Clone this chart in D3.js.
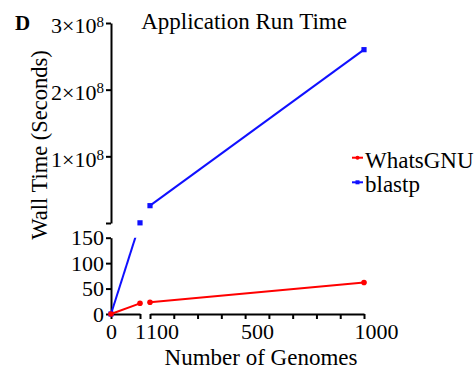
<!DOCTYPE html>
<html>
<head>
<meta charset="utf-8">
<script src="https://cdn.jsdelivr.net/npm/d3@7"></script>
<style>
    body { margin: 0; background: #fff; }
</style>
</head>
<body>
<div id="chart"></div>
<script>
// values
const genomes = [0, 1, 100, 1000];
const whatsgnuTime = [0, 21, 23, 62];
const blastpTime = [0, 2.6e5, 2.6e7, 2.6e8];
const seriesNames = ["WhatsGNU", "blastp"];
const lowYTicks = [0, 50, 100, 150];
const highYTicks = [0, 1e8, 2e8, 3e8];
const lowXTicks = [0, 1];
const highXTicks = [100, 200, 300, 400, 500, 600, 700, 800, 900, 1000];
const highXLabels = [100, 500, 1000];

const FONT = "'Liberation Serif', 'Times New Roman', Times, serif";

document.addEventListener("DOMContentLoaded", function () {
    const width = 476, height = 370;

    const svg = d3.select("#chart")
        .append("svg")
        .attr("width", width)
        .attr("height", height)
        .attr("font-family", FONT);

    // broken axes: two pieces on x, two pieces on y
    const xLow = d3.scaleLinear().domain([0, 1]).range([111, 140]);
    const xHigh = d3.scaleLinear().domain([100, 1000]).range([150, 364]);
    const yLow = d3.scaleLinear().domain([0, 150]).range([314, 237.7]);
    const yHigh = d3.scaleLinear().domain([0, 3e8]).range([223, 23]);

    const px = v => v <= 1 ? xLow(v) : xHigh(v);
    const py = v => v <= 150 ? yLow(v) : yHigh(v);

    const axisStyle = g => {
        g.attr("font-family", FONT).attr("font-size", 22);
        g.selectAll(".domain, .tick line").attr("stroke", "#000").attr("stroke-width", 2);
        g.selectAll(".tick text").attr("fill", "#000");
    };

    // y axis, bottom piece
    svg.append("g")
        .attr("transform", `translate(${xLow(0)},0)`)
        .call(d3.axisLeft(yLow).tickValues(lowYTicks).tickSize(5).tickSizeOuter(0).tickPadding(2))
        .call(axisStyle)
        .call(g => g.selectAll(".tick text").attr("dy", "0.33em"));

    // y axis, top piece with 10^8 labels
    svg.append("g")
        .attr("transform", `translate(${xLow(0)},0)`)
        .call(d3.axisLeft(yHigh).tickValues(highYTicks).tickSize(5).tickSizeOuter(0).tickPadding(2).tickFormat(() => ""))
        .call(axisStyle)
        .call(g => g.selectAll(".tick text").each(function (d) {
            if (d === 0) return;
            const t = d3.select(this).attr("dy", "0.45em");
            t.append("tspan").text(`${d / 1e8}×10`);
            t.append("tspan").attr("dy", "-0.45em").attr("font-size", 15).text("8");
        }));

    // x axis, left piece
    svg.append("g")
        .attr("transform", `translate(0,${yLow(0)})`)
        .call(d3.axisBottom(xLow).tickValues(lowXTicks).tickSize(5).tickSizeOuter(0).tickPadding(4).tickFormat(d3.format("d")))
        .call(axisStyle);

    // x axis, right piece
    svg.append("g")
        .attr("transform", `translate(0,${yLow(0)})`)
        .call(d3.axisBottom(xHigh).tickValues(highXTicks).tickSize(5).tickSizeOuter(0).tickPadding(4)
            .tickFormat(d => highXLabels.includes(d) ? d : ""))
        .call(axisStyle)
        .call(g => g.selectAll(".tick text").attr("dx", 12));

    // clip lines to the two y pieces
    const clip = svg.append("clipPath").attr("id", "panels");
    clip.append("rect").attr("x", 0).attr("y", 0).attr("width", width).attr("height", yHigh(0));
    clip.append("rect").attr("x", 0).attr("y", yLow(150)).attr("width", width).attr("height", height - yLow(150));

    const line = d3.line().x(d => px(d.x)).y(d => py(d.y));

    const series = [
        { name: seriesNames[1], color: "#1010ff", values: blastpTime, shape: "square" },
        { name: seriesNames[0], color: "#ff0000", values: whatsgnuTime, shape: "circle" }
    ];

    series.forEach(s => {
        const pts = genomes.map((g, i) => ({ x: g, y: s.values[i] }));
        const pieces = [pts.filter(p => p.x <= 1), pts.filter(p => p.x >= 100)];

        svg.append("g")
            .attr("clip-path", "url(#panels)")
            .selectAll("path")
            .data(pieces)
            .enter()
            .append("path")
            .attr("d", line)
            .attr("fill", "none")
            .attr("stroke", s.color)
            .attr("stroke-width", 2);

        const marks = svg.append("g").selectAll(".mark").data(pts).enter();
        if (s.shape === "square") {
            marks.append("rect")
                .attr("x", d => px(d.x) - 2.6)
                .attr("y", d => py(d.y) - 2.6)
                .attr("width", 5.2)
                .attr("height", 5.2)
                .attr("fill", s.color);
        } else {
            marks.append("circle")
                .attr("cx", d => px(d.x))
                .attr("cy", d => py(d.y))
                .attr("r", 2.8)
                .attr("fill", s.color);
        }
    });

    // legend
    const legend = svg.append("g").attr("transform", "translate(352,0)");
    [series[1], series[0]].forEach((s, i) => {
        const y = 157.7 + i * 24.6;
        legend.append("line")
            .attr("x1", 0).attr("x2", 11)
            .attr("y1", y).attr("y2", y)
            .attr("stroke", s.color)
            .attr("stroke-width", 2);
        if (s.shape === "square") {
            legend.append("rect").attr("x", 3.5).attr("y", y - 2).attr("width", 4).attr("height", 4).attr("fill", s.color);
        } else {
            legend.append("circle").attr("cx", 5.5).attr("cy", y).attr("r", 2).attr("fill", s.color);
        }
        legend.append("text")
            .attr("x", 13)
            .attr("y", y + 10)
            .attr("font-size", 23)
            .text(s.name);
    });

    // titles
    svg.append("text")
        .attr("x", 244)
        .attr("y", 29)
        .attr("text-anchor", "middle")
        .attr("font-size", 23)
        .text("Application Run Time");

    svg.append("text")
        .attr("x", 15)
        .attr("y", 30)
        .attr("font-size", 21)
        .attr("font-weight", "bold")
        .text("D");

    svg.append("text")
        .attr("x", 261)
        .attr("y", 364.5)
        .attr("text-anchor", "middle")
        .attr("font-size", 23)
        .text("Number of Genomes");

    svg.append("text")
        .attr("transform", "translate(47,145) rotate(-90)")
        .attr("text-anchor", "middle")
        .attr("font-size", 22.5)
        .text("Wall Time (Seconds)");
});
</script>
</body>
</html>
